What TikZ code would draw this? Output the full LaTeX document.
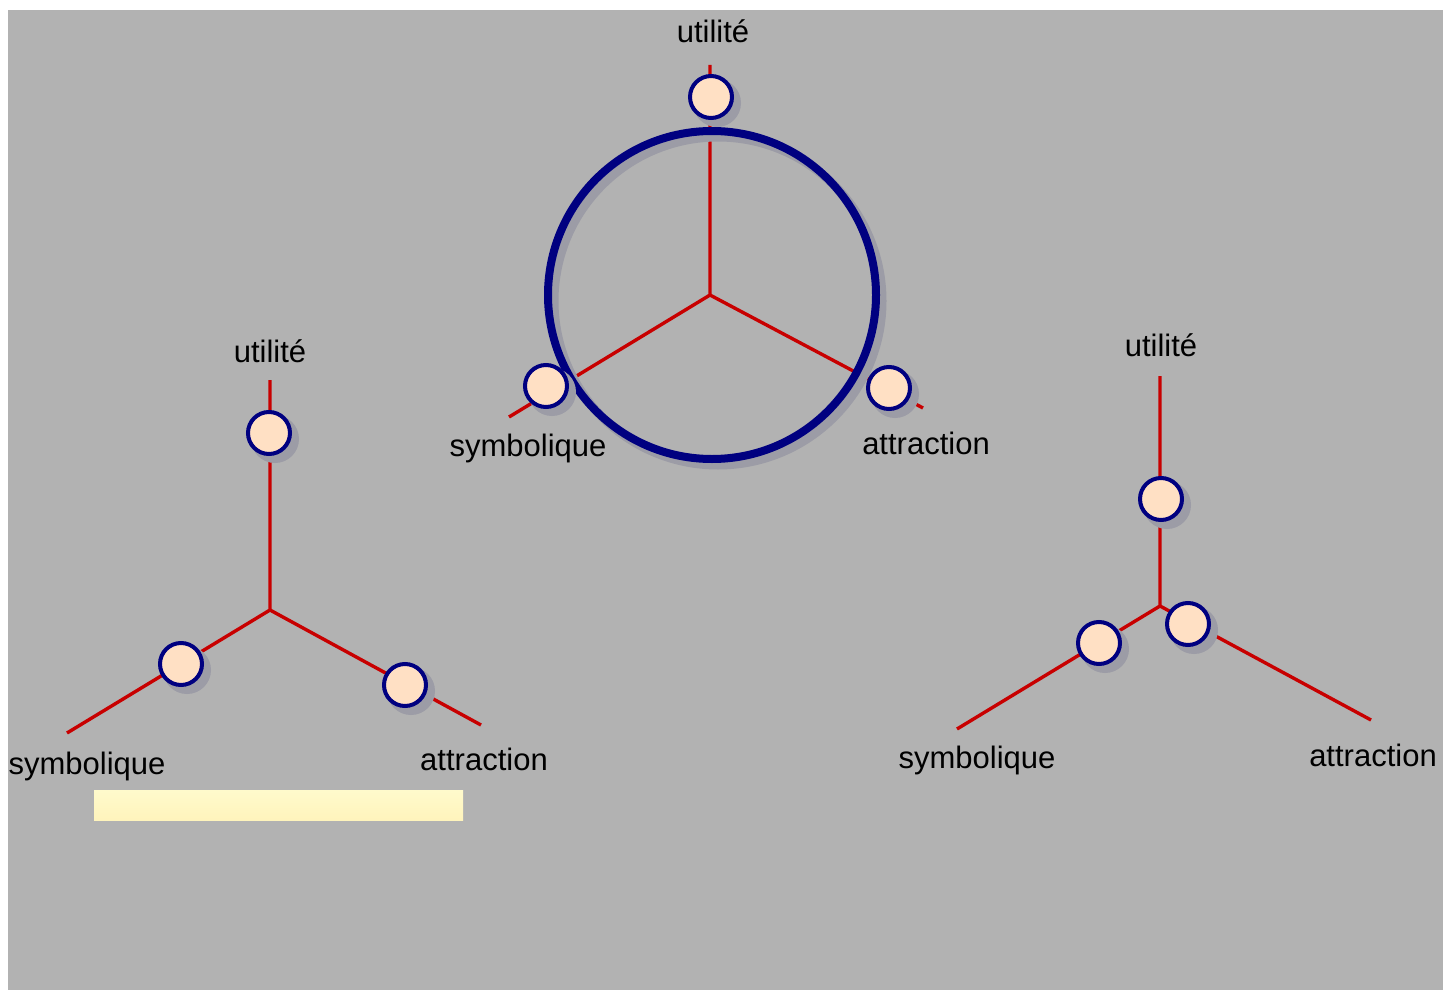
\documentclass[tikz,border=0pt]{standalone}
\usepackage{fontspec}
\setmainfont{Liberation Sans}
\usetikzlibrary{shadows}
\definecolor{backgray}{RGB}{178,178,178}
\definecolor{axisred}{RGB}{200,0,0}
\definecolor{portblue}{RGB}{0,0,128}
\definecolor{portfill}{RGB}{255,224,196}
\definecolor{shade}{RGB}{156,156,166}
\definecolor{notetop}{RGB}{255,250,204}
\definecolor{notebottom}{RGB}{255,244,188}

\begin{document}
\begin{tikzpicture}[x=1pt,y=-1pt,
    axis/.style={draw=axisred, line width=3.4pt},
    port/.style={circle, draw=portblue, line width=4pt, fill=portfill,
      minimum size=42pt, inner sep=0pt,
      general shadow={fill=shade, draw=shade, line width=6pt, shadow xshift=6pt, shadow yshift=-6pt}},
    ring/.style={circle, draw=portblue, line width=8pt, minimum size=328pt,
      inner sep=0pt,
      general shadow={draw=shade, line width=9pt, shadow xshift=6pt, shadow yshift=-6pt}},
    lab/.style={inner sep=0pt, font=\fontsize{31}{36}\selectfont}]
  \useasboundingbox (0,0) rectangle (1443,990);
  \fill [backgray] (8,10) rectangle (1443,990);
  % left
  \coordinate (c1) at (270,610);
  \coordinate (u1) at (270,380);
  \coordinate (s1) at (67,733);
  \coordinate (a1) at (481,725);
  \draw [axis] (u1) -- (c1) -- (s1);
  \draw [axis] (c1) -- (a1);
  \node [port] (pu1) at (269,433) {};
  \node [port] (ps1) at (181,664) {};
  \node [port] (pa1) at (405,685) {};
  \node [lab] (lu1) at (270,351) {utilité};
  \node [lab] (ls1) at (87,766) {symbolique};
  \node [lab] (la1) at (484,759) {attraction};
  \shade [top color=notetop, bottom color=notebottom] (94,790) rectangle (463,820);
  % centre
  \coordinate (c2) at (710,295);
  \coordinate (u2) at (710,65);
  \coordinate (s2) at (509,417);
  \coordinate (a2) at (923,408);
  \draw [axis] (u2) -- (c2) -- (s2);
  \draw [axis] (c2) -- (a2);
  \node [ring] (ring) at (712,295) {};
  \node [port] (pu2) at (711,97) {};
  \node [port] (ps2) at (546,386) {};
  \node [port] (pa2) at (889,388) {};
  \node [lab] (lu2) at (713,31) {utilité};
  \node [lab] (ls2) at (528,448) {symbolique};
  \node [lab] (la2) at (926,443) {attraction};
  % right
  \coordinate (c3) at (1160,606);
  \coordinate (u3) at (1160,376);
  \coordinate (s3) at (957,729);
  \coordinate (a3) at (1371,720);
  \draw [axis] (u3) -- (c3) -- (s3);
  \draw [axis] (c3) -- (a3);
  \node [port] (pu3) at (1161,499) {};
  \node [port] (ps3) at (1099,643) {};
  \node [port] (pa3) at (1188,624) {};
  \node [lab] (lu3) at (1161,345) {utilité};
  \node [lab] (ls3) at (977,760) {symbolique};
  \node [lab] (la3) at (1373,755) {attraction};
\end{tikzpicture}
\end{document}
